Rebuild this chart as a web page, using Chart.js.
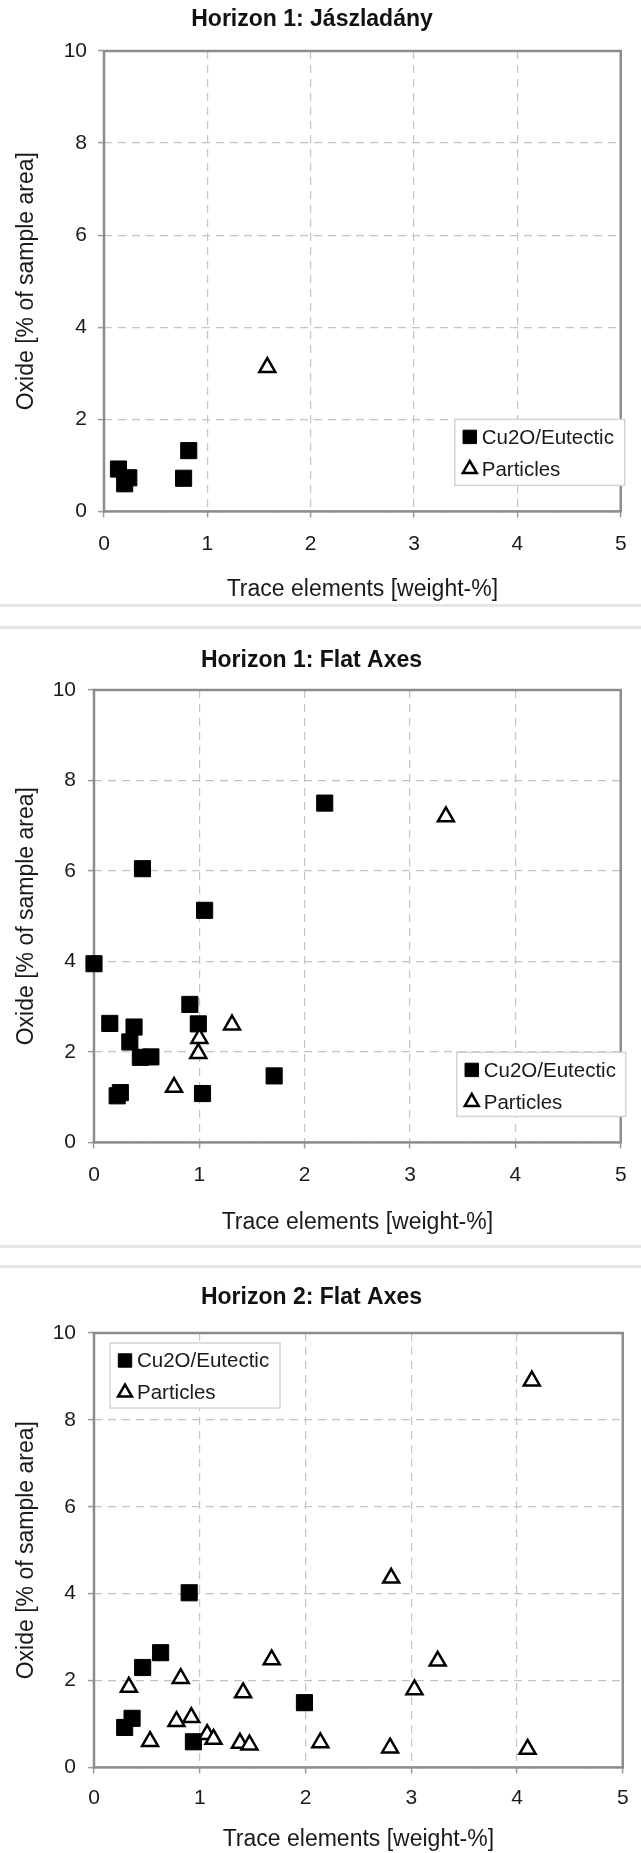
<!DOCTYPE html>
<html>
<head>
<meta charset="utf-8">
<script src="https://cdn.jsdelivr.net/npm/chart.js@4.4.1/dist/chart.umd.min.js"></script>
<style>
  html, body { margin: 0; padding: 0; background: #fff; }
  body { position: relative; width: 641px; height: 1853px; overflow: hidden; }
  .panel { position: absolute; left: 0; display: block; }
  .rule { position: absolute; left: 0; width: 641px; height: 3px; background: #e6e6e6; }
</style>
</head>
<body>
<canvas id="c1" class="panel" style="top:0px" width="641" height="603"></canvas>
<div class="rule" style="top:604px"></div>
<div class="rule" style="top:626px"></div>
<canvas id="c2" class="panel" style="top:630px" width="641" height="606"></canvas>
<div class="rule" style="top:1245px"></div>
<div class="rule" style="top:1265px"></div>
<canvas id="c3" class="panel" style="top:1269px" width="641" height="584"></canvas>
<script>
// Horizon 1: Jászladány
const jaszCuX = [0.14, 0.20, 0.24, 0.77, 0.82];
const jaszCuY = [0.92, 0.60, 0.73, 0.72, 1.32];
const jaszPartX = [1.58];
const jaszPartY = [3.13];

// Horizon 1: Flat Axes
const flat1CuX = [0.00, 0.46, 1.05, 2.19, 0.91, 0.99, 0.15, 0.38, 0.34, 0.44, 0.54, 0.22, 0.25, 1.03, 1.71];
const flat1CuY = [3.95, 6.05, 5.13, 7.50, 3.05, 2.62, 2.63, 2.55, 2.22, 1.88, 1.89, 1.03, 1.10, 1.08, 1.47];
const flat1PartX = [3.34, 1.31, 1.00, 0.99, 0.76];
const flat1PartY = [7.20, 2.60, 2.30, 1.97, 1.22];

// Horizon 2: Flat Axes
const flat2CuX = [0.90, 0.63, 0.46, 0.29, 0.36, 0.94, 1.99];
const flat2CuY = [4.02, 2.64, 2.30, 0.92, 1.13, 0.59, 1.49];
const flat2PartX = [4.14, 2.81, 0.33, 0.53, 0.82, 0.78, 0.92, 1.07, 1.13, 1.38, 1.47, 1.41, 1.68, 2.14, 2.80, 3.03, 3.25, 4.10];
const flat2PartY = [8.90, 4.36, 1.85, 0.60, 2.05, 1.06, 1.15, 0.76, 0.65, 0.56, 0.52, 1.72, 2.48, 0.57, 0.45, 1.79, 2.45, 0.42];

const seriesNames = ['Cu2O/Eutectic', 'Particles'];
const xTitle = 'Trace elements [weight-%]';
const yTitle = 'Oxide [% of sample area]';

const FONT = "'Liberation Sans', Arial, sans-serif";
const TEXT = '#1a1a1a';

function pairs(xs, ys) {
    return xs.map((x, i) => ({ x: x, y: ys[i] }));
}

// box round the plot area
const plotFrame = {
    id: 'plotFrame',
    beforeDatasetsDraw(chart) {
        const a = chart.chartArea;
        const ctx = chart.ctx;
        ctx.save();
        ctx.strokeStyle = '#8c8c8c';
        ctx.lineWidth = 2.5;
        ctx.strokeRect(a.left, a.top, a.right - a.left, a.bottom - a.top);
        ctx.restore();
    }
};

// legend with a border, placed inside the plot like the original
const boxLegend = {
    id: 'boxLegend',
    afterDatasetsDraw(chart, args, opts) {
        const a = chart.chartArea;
        const ctx = chart.ctx;
        const w = opts.w, h = opts.h;
        const left = opts.corner === 'topLeft' ? a.left + opts.dx : a.right + opts.dx - w;
        const top = opts.corner === 'topLeft' ? a.top + opts.dy : a.bottom - opts.dy - h;
        ctx.save();
        ctx.fillStyle = '#fff';
        ctx.fillRect(left, top, w, h);
        ctx.strokeStyle = '#d4d4d4';
        ctx.lineWidth = 1.5;
        ctx.strokeRect(left, top, w, h);
        chart.data.datasets.forEach((ds, i) => {
            const cy = top + 17.5 + i * 32;
            ctx.fillStyle = ds.pointBackgroundColor;
            ctx.strokeStyle = ds.pointBorderColor;
            ctx.lineWidth = ds.pointBorderWidth;
            const r = ds.pointStyle === 'rect' ? 9.5 : 8;
            Chart.helpers.drawPoint(ctx, {
                pointStyle: ds.pointStyle, radius: r, rotation: 0, borderWidth: ds.pointBorderWidth
            }, left + 15, cy);
            ctx.fillStyle = TEXT;
            ctx.font = '20.5px ' + FONT;
            ctx.textAlign = 'left';
            ctx.textBaseline = 'middle';
            ctx.fillText(ds.label, left + 27, cy + 1);
        });
        ctx.restore();
    }
};

function makeChart(id, title, cu, part, lay) {
    return new Chart(document.getElementById(id), {
        type: 'scatter',
        data: {
            datasets: [{
                label: seriesNames[0],
                data: pairs(cu[0], cu[1]),
                pointStyle: 'rect',
                pointRadius: 11.4,
                pointHoverRadius: 11.4,
                pointBackgroundColor: '#000',
                pointBorderColor: '#000',
                pointBorderWidth: 1,
                order: 1,
                clip: false
            }, {
                label: seriesNames[1],
                data: pairs(part[0], part[1]),
                pointStyle: 'triangle',
                pointRadius: 9.2,
                pointHoverRadius: 9.2,
                pointBackgroundColor: '#fff',
                pointBorderColor: '#000',
                pointBorderWidth: 2.5,
                order: 0,
                clip: false
            }]
        },
        options: {
            responsive: false,
            animation: false,
            events: [],
            layout: {
                padding: { top: 0, right: lay.right, bottom: 0, left: 0 }
            },
            scales: {
                x: {
                    type: 'linear',
                    min: 0,
                    max: 5,
                    ticks: {
                        stepSize: 1,
                        padding: lay.xPad,
                        color: TEXT,
                        font: { family: FONT, size: 21 }
                    },
                    grid: {
                        color: '#c4c4c4',
                        lineWidth: 1.2,
                        tickLength: 6,
                        tickColor: '#9a9a9a',
                        tickWidth: 1.5,
                        tickBorderDash: []
                    },
                    border: { display: false, dash: [8, 6] },
                    title: {
                        display: true,
                        text: xTitle,
                        color: TEXT,
                        font: { family: FONT, size: 23 },
                        padding: 0
                    },
                    afterFit: (s) => { s.height = lay.xH; }
                },
                y: {
                    type: 'linear',
                    min: 0,
                    max: 10,
                    ticks: {
                        stepSize: 2,
                        padding: lay.yPad,
                        color: TEXT,
                        font: { family: FONT, size: 21 }
                    },
                    grid: {
                        color: '#c4c4c4',
                        lineWidth: 1.2,
                        tickLength: 6,
                        tickColor: '#9a9a9a',
                        tickWidth: 1.5,
                        tickBorderDash: []
                    },
                    border: { display: false, dash: [8, 6] },
                    title: {
                        display: true,
                        text: yTitle,
                        color: TEXT,
                        font: { family: FONT, size: 23 },
                        padding: { top: 12.4, bottom: 0 }
                    },
                    afterFit: (s) => { s.width = lay.yW; }
                }
            },
            plugins: {
                legend: { display: false },
                tooltip: { enabled: false },
                title: {
                    display: true,
                    text: title,
                    color: '#111',
                    font: { family: FONT, size: 23, weight: 'bold' },
                    padding: { top: lay.tTop, bottom: lay.tBottom }
                },
                boxLegend: lay.legend
            }
        },
        plugins: [plotFrame, boxLegend]
    });
}

makeChart('c1', 'Horizon 1: Jászladány', [jaszCuX, jaszCuY], [jaszPartX, jaszPartY], {
    right: 17, xH: 91.6, xPad: 14.4, yW: 104, yPad: 11, tTop: 5.4, tBottom: 18,
    legend: { corner: 'bottomRight', dx: 4, dy: 26, w: 170, h: 66 }
});
makeChart('c2', 'Horizon 1: Flat Axes', [flat1CuX, flat1CuY], [flat1PartX, flat1PartY], {
    right: 18, xH: 93.6, xPad: 14.4, yW: 94, yPad: 12, tTop: 17.2, tBottom: 15.2,
    legend: { corner: 'bottomRight', dx: 5, dy: 26, w: 169, h: 64 }
});
makeChart('c3', 'Horizon 2: Flat Axes', [flat2CuX, flat2CuY], [flat2PartX, flat2PartY], {
    right: 18, xH: 85.6, xPad: 12.4, yW: 94, yPad: 12, tTop: 15.2, tBottom: 21.2,
    legend: { corner: 'topLeft', dx: 16, dy: 10, w: 170, h: 65 }
});
</script>
</body>
</html>
